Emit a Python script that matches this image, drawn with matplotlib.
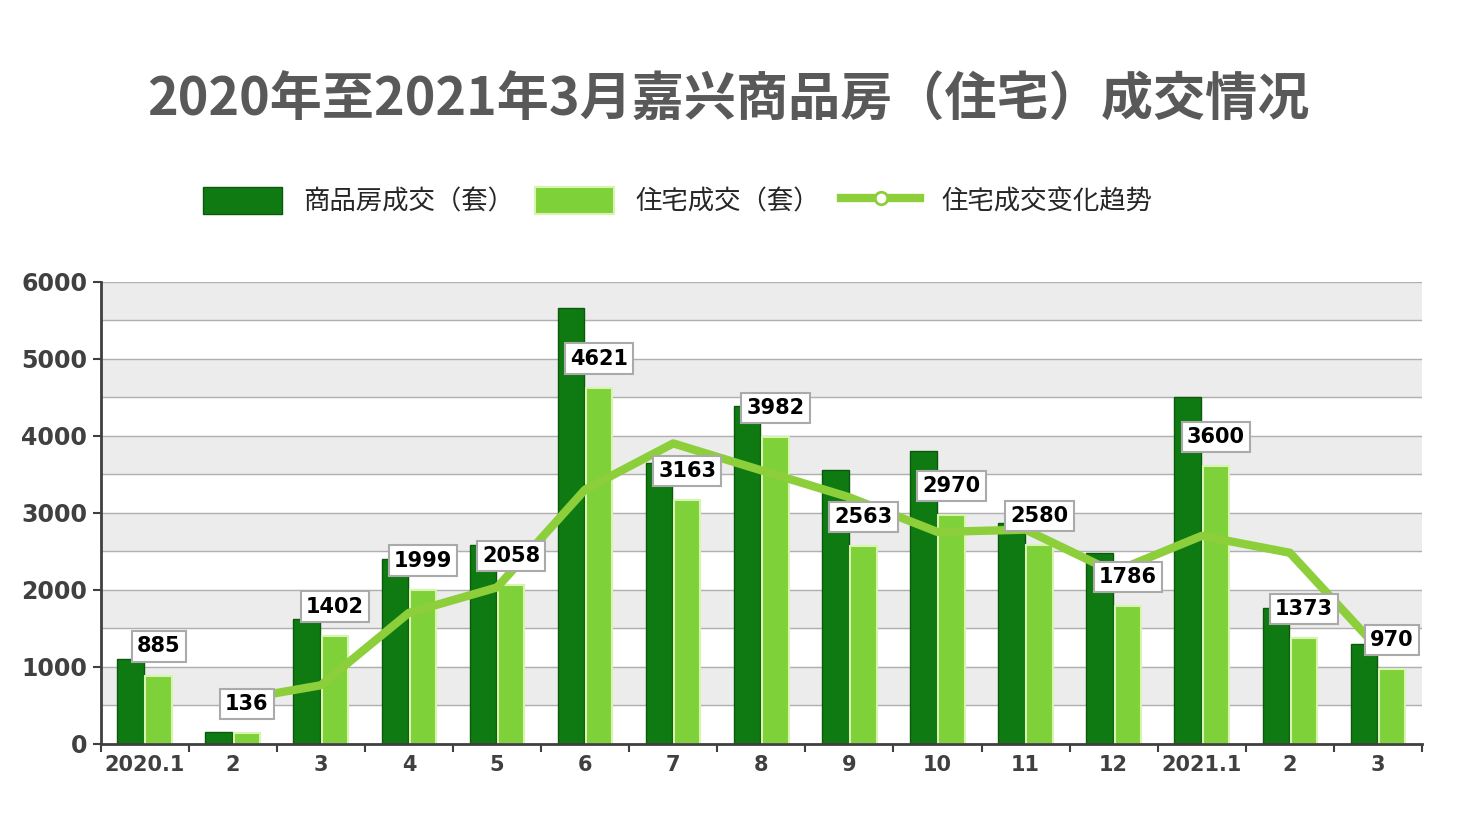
import matplotlib
matplotlib.use("Agg")
import matplotlib.pyplot as plt
from matplotlib import font_manager as fm
import numpy as np

names = sorted({f.name for f in fm.fontManager.ttflist})
cjk = 'Noto Sans CJK SC' if 'Noto Sans CJK SC' in names else next(
    (n for n in names if 'Sans CJK' in n), 'Noto Sans CJK SC')
plt.rcParams['font.family'] = [cjk, 'DejaVu Sans']

cats = ['2020.1','2','3','4','5','6','7','8','9','10','11','12','2021.1','2','3']
total = [1100,160,1620,2400,2580,5660,3650,4380,3550,3800,2870,2480,4500,1760,1300]
resid = [885,136,1402,1999,2058,4621,3163,3982,2563,2970,2580,1786,3600,1373,970]
trend = [np.nan,560,760,1700,2030,3300,3900,3550,3200,2750,2780,2230,2700,2480,1240]

fig = plt.figure(figsize=(14.57,8.21), dpi=100)
ax = fig.add_axes([0.069, 0.094, 0.907, 0.563])
x = np.arange(len(cats))
ax.set_xlim(-0.5, len(cats)-0.5)
ax.set_ylim(0, 6000)
for i in range(12):
    if i % 2 == 1:
        ax.axhspan(i*500, (i+1)*500, color='#ececec', zorder=0)
    ax.axhline(i*500, color='#b0b0b0', lw=1, zorder=0.5)
ax.axhline(6000, color='#b0b0b0', lw=1, zorder=0.5)
w = 0.3
b1 = ax.bar(x-0.16, total, w, color='#0f7a12', edgecolor='#0a5a0c', lw=1, zorder=2)
b2 = ax.bar(x+0.16, resid, w, color='#7fd13a', edgecolor='#d8f5b0', lw=1.5, zorder=2)
l1, = ax.plot(x, trend, color='#8ccf3a', lw=6, zorder=3, solid_capstyle='round')
h3, = ax.plot([], [], color='#8ccf3a', lw=6, marker='o', ms=9, markerfacecolor='white',
              markeredgecolor='#8ccf3a', markeredgewidth=2)
for xi, v in zip(x, resid):
    ax.text(xi+0.16, v+380, str(v), ha='center', va='center', fontsize=15, fontweight='bold',
            family='DejaVu Sans', zorder=5,
            bbox=dict(boxstyle='square,pad=0.25', fc='white', ec='#aaaaaa', lw=1.5))
ax.set_xticks(x)
ax.set_xticklabels(cats, fontsize=15, fontweight='bold', color='#404040', family='DejaVu Sans')
ax.set_yticks(range(0, 6001, 1000))
ax.set_yticklabels([str(v) for v in range(0, 6001, 1000)], fontsize=17, fontweight='bold',
                   color='#404040', family='DejaVu Sans')
ax.set_xticks(np.arange(-0.5, len(cats), 1), minor=True)
ax.tick_params(axis='x', which='major', length=0, pad=8)
ax.tick_params(axis='x', which='minor', length=6, width=1.5, color='#404040')
ax.tick_params(axis='y', length=6, width=1.5, color='#404040')
for s in ['top', 'right']:
    ax.spines[s].set_visible(False)
for s in ['left', 'bottom']:
    ax.spines[s].set_linewidth(2)
    ax.spines[s].set_color('#404040')

fig.text(0.5, 0.878, '2020年至2021年3月嘉兴商品房（住宅）成交情况', ha='center', va='center',
         fontsize=37.5, fontweight='bold', color='#595959')
leg = fig.legend([b1, b2, h3], ['商品房成交（套）', '住宅成交（套）', '住宅成交变化趋势'],
                 loc='center', bbox_to_anchor=(0.465, 0.755), ncol=3, frameon=False,
                 fontsize=19, handlelength=3, handleheight=1.2, columnspacing=0.8)
for t in leg.get_texts():
    t.set_color('#262626')
fig.savefig('out.png', dpi=100)
